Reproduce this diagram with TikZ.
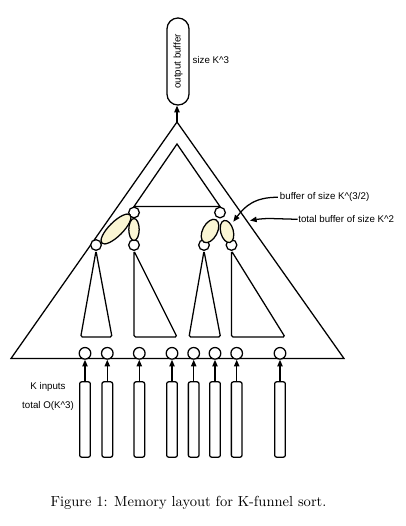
\documentclass[tikz,border=0pt]{standalone}
\usepackage{fontspec}
\newfontfamily\lab{Liberation Sans}
\usetikzlibrary{shapes.geometric,arrows.meta}
\definecolor{buf}{RGB}{250,246,212}
\begin{document}
\begin{tikzpicture}[x=0.75pt,y=-0.75pt,line width=0.95pt,
  lbl/.style={font=\lab\fontsize{7.3}{8.5}\selectfont,inner sep=0pt},
  arr/.style={-{Triangle[length=5pt,width=4pt]}},
  cup/.style={circle,draw,fill=white,inner sep=0pt,minimum size=8pt},
  cbot/.style={circle,draw,fill=white,inner sep=0pt,minimum size=8.7pt},
  inbox/.style={draw,rounded corners=1.5pt,minimum width=8pt,minimum height=56.5pt,inner sep=0pt},
  ell/.style={ellipse,draw,fill=buf,inner sep=0pt},
  tri/.style={rounded corners=1.2pt}]
\useasboundingbox (0,0) rectangle (406,526);
% output buffer
\node[draw,rounded corners=8.2pt,minimum width=16.5pt,minimum height=65.25pt,inner sep=0pt,
  font=\lab\fontsize{7.3}{8.5}\selectfont] (out) at (178,61.5) {\rotatebox{90}{output buffer}};
\node[lbl,anchor=west] (sizelbl) at (192,60) {size K\textasciicircum 3};
% outer triangle
\coordinate (A) at (177,122);
\coordinate (BL) at (11,358.5);
\coordinate (BR) at (344,358.5);
\draw (A) -- (BL) -- (BR) -- cycle;
\draw[arr] (A) -- (A|-out.south);
% upper circles and inner triangle
\node[cup] (u1) at (134,212.5) {};
\node[cup] (u2) at (220,212.5) {};
\coordinate (IA) at (177,144);
\draw (u1.north) -- (IA) -- (u2.north) -- cycle;
% lower circles
\node[cup] (l1) at (96,245) {};
\node[cup] (l2) at (134,245) {};
\node[cup] (l3) at (204,245) {};
\node[cup] (l4) at (231.5,245) {};
% buffers
\node[ell,minimum width=30pt,minimum height=10.5pt,rotate=45] (e1) at (116,229) {};
\node[ell,minimum width=16.5pt,minimum height=7.8pt,rotate=90] (e2) at (134,229.5) {};
\node[ell,minimum width=19pt,minimum height=11pt,rotate=62] (e3) at (210,231) {};
\node[ell,minimum width=17pt,minimum height=9.5pt,rotate=105] (e4) at (227,231.5) {};
% sub-trees
\coordinate (t1a) at (80.7,337); \coordinate (t1b) at (112,337);
\coordinate (t2a) at (134,337); \coordinate (t2b) at (177,337);
\coordinate (t3a) at (189,337); \coordinate (t3b) at (220.5,337);
\coordinate (t4a) at (231.5,337); \coordinate (t4b) at (285,337);
\draw[tri] (l1.south) -- (t1a) -- (t1b) -- cycle;
\draw[tri] (l2.south) -- (t2a) -- (t2b) -- cycle;
\draw[tri] (l3.south) -- (t3a) -- (t3b) -- cycle;
\draw[tri] (l4.south) -- (t4a) -- (t4b) -- cycle;
% inputs
\foreach \i/\x in {1/85,2/107.3,3/139.3,4/172,5/193.7,6/215,7/236.7,8/280}{
  \node[cbot] (b\i) at (\x,353.3) {};
  \node[inbox] (r\i) at (\x,419.5) {};
  \draw[arr] (r\i.north) -- (b\i.south);
}
\node[lbl] (kin) at (48,387) {K inputs};
\node[lbl] (ktot) at (48,406) {total O(K\textasciicircum 3)};
% annotations
\node[lbl,anchor=west] (bufl) at (279.3,197.3) {buffer of size K\textasciicircum(3/2)};
\node[lbl,anchor=west] (totl) at (297.7,219.3) {total buffer of size K\textasciicircum 2};
\coordinate (tipb) at (233.3,221.7);
\coordinate (tipt) at (250,220.5);
\draw[arr] ([xshift=-1pt]bufl.west) .. controls (255,197) and (245,206) .. (tipb);
\draw[arr] (totl.west) -- (270,218.5) .. controls (262,218.5) and (256,219.5) .. (tipt);
% caption
\node[font=\fontsize{10.9}{13}\selectfont,inner sep=0pt] (cap) at (188.5,503) {Figure 1: Memory layout for K-funnel sort.};
\end{tikzpicture}
\end{document}
